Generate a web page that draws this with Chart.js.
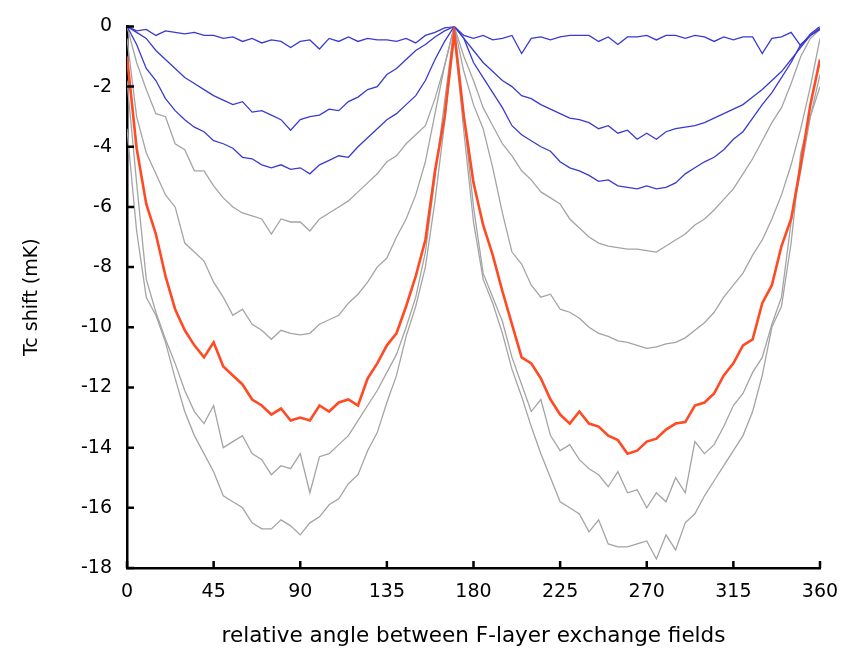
<!DOCTYPE html>
<html>
<head>
<meta charset="utf-8">
<script src="https://cdn.jsdelivr.net/npm/chart.js@4/dist/chart.umd.min.js"></script>
<style>
  html, body { margin: 0; padding: 0; background: #fff; }
  #wrap { width: 852px; height: 653px; }
</style>
</head>
<body>
<div id="wrap"><canvas id="tc-chart" width="852" height="653"></canvas></div>
<script>
// angle grid, degrees
const angles = [
  0, 5, 10, 15, 20, 25, 30, 35, 40, 45,
  50, 55, 60, 65, 70, 75, 80, 85, 90, 95,
  100, 105, 110, 115, 120, 125, 130, 135, 140, 145,
  150, 155, 160, 165, 170, 175, 180, 185, 190, 195,
  200, 205, 210, 215, 220, 225, 230, 235, 240, 245,
  250, 255, 260, 265, 270, 275, 280, 285, 290, 295,
  300, 305, 310, 315, 320, 325, 330, 335, 340, 345,
  350, 355, 360,
];

const xTicks = [0, 45, 90, 135, 180, 225, 270, 315, 360];
const yTicks = [0, -2, -4, -6, -8, -10, -12, -14, -16, -18];

// Tc shift (mK)
const blue1 = [
  0, -0.15, -0.1, -0.3, -0.15, -0.2, -0.25, -0.2, -0.3, -0.3,
  -0.4, -0.35, -0.5, -0.4, -0.55, -0.45, -0.5, -0.7, -0.5, -0.45,
  -0.75, -0.4, -0.5, -0.35, -0.5, -0.4, -0.45, -0.45, -0.5, -0.4,
  -0.55, -0.3, -0.2, -0.05, 0, -0.3, -0.4, -0.3, -0.45, -0.4,
  -0.3, -0.9, -0.4, -0.35, -0.45, -0.35, -0.3, -0.3, -0.3, -0.5,
  -0.35, -0.6, -0.35, -0.35, -0.3, -0.45, -0.3, -0.3, -0.4, -0.3,
  -0.35, -0.5, -0.35, -0.45, -0.35, -0.35, -0.9, -0.4, -0.35, -0.2,
  -0.65, -0.25, 0,
];

const blue2 = [
  0, -0.2, -0.4, -0.8, -1.1, -1.4, -1.7, -1.9, -2.1, -2.3,
  -2.45, -2.6, -2.5, -2.85, -2.8, -2.95, -3.1, -3.45, -3.1, -3.0,
  -2.95, -2.75, -2.8, -2.5, -2.35, -2.1, -2.0, -1.6, -1.4, -1.1,
  -0.8, -0.6, -0.35, -0.15, 0, -0.4, -0.8, -1.2, -1.5, -1.8,
  -2.0, -2.3, -2.4, -2.6, -2.75, -2.9, -3.05, -3.1, -3.2, -3.4,
  -3.3, -3.55, -3.45, -3.75, -3.55, -3.75, -3.5, -3.4, -3.35, -3.3,
  -3.2, -3.05, -2.9, -2.75, -2.6, -2.35, -2.1, -1.8, -1.5, -1.1,
  -0.7, -0.3, -0.1,
];

const blue3 = [
  0, -0.6, -1.4, -1.8, -2.4, -2.8, -3.1, -3.35, -3.5, -3.8,
  -3.9, -4.05, -4.35, -4.4, -4.6, -4.7, -4.6, -4.75, -4.7, -4.9,
  -4.6, -4.45, -4.3, -4.35, -4.0, -3.7, -3.4, -3.1, -2.9, -2.6,
  -2.3, -1.8, -1.1, -0.5, 0, -0.4, -1.2, -1.7, -2.2, -2.7,
  -3.3, -3.6, -3.8, -4.0, -4.15, -4.5, -4.7, -4.8, -4.95, -5.15,
  -5.1, -5.3, -5.35, -5.4, -5.3, -5.4, -5.35, -5.2, -4.9, -4.7,
  -4.5, -4.35, -4.1, -3.75, -3.5, -3.05, -2.6, -2.2, -1.7, -1.2,
  -0.6, -0.3, -0.05,
];

const gray1 = [
  0, -1.2, -2.1, -2.9, -3.0, -3.9, -4.1, -4.8, -4.8, -5.3,
  -5.7, -6.0, -6.2, -6.3, -6.4, -6.9, -6.4, -6.5, -6.5, -6.8,
  -6.4, -6.2, -6.0, -5.8, -5.5, -5.2, -4.9, -4.5, -4.3, -3.9,
  -3.6, -3.3, -2.4, -1.3, 0, -1.0, -1.8, -2.7, -3.3, -3.9,
  -4.3, -4.8, -5.1, -5.5, -5.7, -5.9, -6.4, -6.7, -7.0, -7.2,
  -7.3, -7.35, -7.4, -7.4, -7.45, -7.5, -7.3, -7.1, -6.9, -6.6,
  -6.4, -6.1, -5.75, -5.4, -4.9, -4.4, -3.8, -3.2, -2.7, -1.9,
  -1.0, -0.4, -0.1,
];

const gray2 = [
  -0.4, -3.0, -4.2, -4.9, -5.6, -6.0, -7.2, -7.5, -7.8, -8.5,
  -9.0, -9.6, -9.4, -9.9, -10.1, -10.4, -10.1, -10.2, -10.25, -10.2,
  -9.9, -9.75, -9.6, -9.2, -8.9, -8.5, -8.0, -7.7, -7.0, -6.4,
  -5.6, -4.5, -2.9, -1.3, 0, -1.5, -2.6, -3.4, -4.7, -6.2,
  -7.5, -7.9, -8.6, -9.0, -8.9, -9.4, -9.5, -9.7, -10.0, -10.2,
  -10.3, -10.45, -10.5, -10.6, -10.7, -10.65, -10.55, -10.5, -10.35, -10.1,
  -9.85, -9.5, -9.0, -8.6, -8.2, -7.6, -7.1, -6.4, -5.6, -4.6,
  -3.4, -2.0, -0.4,
];

const red = [
  -1.0, -4.05, -5.9, -6.9, -8.3, -9.4, -10.1, -10.6, -11.0, -10.5,
  -11.3, -11.6, -11.9, -12.4, -12.6, -12.9, -12.7, -13.1, -13.0, -13.1,
  -12.6, -12.8, -12.5, -12.4, -12.6, -11.7, -11.2, -10.6, -10.2, -9.3,
  -8.3, -7.1, -4.8, -3.0, -0.2, -3.0, -5.2, -6.6, -7.6, -8.8,
  -9.9, -11.0, -11.2, -11.7, -12.4, -12.9, -13.2, -12.8, -13.2, -13.3,
  -13.6, -13.75, -14.2, -14.1, -13.8, -13.7, -13.4, -13.2, -13.15, -12.6,
  -12.5, -12.2, -11.6, -11.2, -10.6, -10.4, -9.2, -8.6, -7.3, -6.4,
  -4.6, -2.6, -1.1,
];

const gray3 = [
  -1.8, -5.2, -8.4, -9.5, -10.4, -11.2, -12.1, -12.8, -13.2, -12.6,
  -14.0, -13.8, -13.6, -14.2, -14.4, -14.9, -14.6, -14.7, -14.2, -15.5,
  -14.3, -14.2, -13.9, -13.6, -13.1, -12.6, -12.1, -11.5, -10.9, -10.0,
  -9.0, -7.5, -5.0, -2.5, 0, -3.0, -6.0, -8.2, -9.0, -9.8,
  -11.0, -11.9, -12.8, -12.4, -13.6, -14.1, -13.9, -14.4, -14.7, -14.9,
  -15.3, -14.8, -15.5, -15.4, -16.0, -15.5, -15.8, -15.0, -15.5, -13.8,
  -14.2, -13.9, -13.3, -12.6, -12.2, -11.5, -11.0, -9.9, -9.0, -6.5,
  -4.8, -3.0, -1.6,
];

const gray4 = [
  -3.4, -6.8, -9.0, -9.6, -10.5, -11.7, -12.8, -13.6, -14.2, -14.8,
  -15.6, -15.8, -16.0, -16.5, -16.7, -16.7, -16.4, -16.6, -16.9, -16.5,
  -16.3, -15.9, -15.7, -15.2, -14.9, -14.1, -13.5, -12.5, -11.6, -10.3,
  -9.3, -8.0, -5.8, -3.2, -0.3, -3.5, -6.5, -8.4, -9.2, -10.2,
  -11.4, -12.3, -13.3, -14.2, -15.0, -15.8, -16.0, -16.2, -16.8, -16.4,
  -17.2, -17.3, -17.3, -17.2, -17.1, -17.7, -16.9, -17.4, -16.5, -16.2,
  -15.6, -15.1, -14.6, -14.1, -13.6, -12.8, -11.6, -10.0, -9.3, -7.2,
  -4.2, -3.0, -2.0,
];

const BLUE = "#3a3ad0";
const GRAY = "#a4a4a4";
const RED = "#ff4a24";

const toPoints = (values) => angles.map((a, i) => ({ x: a, y: values[i] }));

const line = (values, color, width, order) => ({
  data: toPoints(values),
  borderColor: color,
  backgroundColor: color,
  borderWidth: width,
  pointRadius: 0,
  fill: false,
  tension: 0,
  order: order,
});

// ticks point inward, like the original plot
const innerTicks = {
  id: "innerTicks",
  afterDraw(chart) {
    const { ctx, chartArea, scales } = chart;
    ctx.save();
    ctx.strokeStyle = "#000";
    ctx.lineWidth = 2.5;
    ctx.beginPath();
    xTicks.forEach((v) => {
      const px = scales.x.getPixelForValue(v);
      ctx.moveTo(px, chartArea.bottom);
      ctx.lineTo(px, chartArea.bottom - 7);
    });
    yTicks.forEach((v) => {
      const py = scales.y.getPixelForValue(v);
      ctx.moveTo(chartArea.left, py);
      ctx.lineTo(chartArea.left + 7, py);
    });
    ctx.stroke();
    ctx.restore();
  },
};

const fontFamily = "'DejaVu Sans', Verdana, sans-serif";
const tickFont = { family: fontFamily, size: 19 };

new Chart(document.getElementById("tc-chart").getContext("2d"), {
  type: "line",
  data: {
    datasets: [
      line(red, RED, 2.6, 0),
      line(blue1, BLUE, 1.3, 1),
      line(blue2, BLUE, 1.3, 1),
      line(blue3, BLUE, 1.3, 1),
      line(gray1, GRAY, 1.3, 2),
      line(gray2, GRAY, 1.3, 2),
      line(gray3, GRAY, 1.3, 2),
      line(gray4, GRAY, 1.3, 2),
    ],
  },
  options: {
    responsive: false,
    animation: false,
    layout: { padding: { top: 20, right: 32, left: 0, bottom: 0 } },
    plugins: {
      legend: { display: false },
      tooltip: { enabled: false },
    },
    scales: {
      x: {
        type: "linear",
        min: 0,
        max: 360,
        afterFit: (s) => {
          s.height = 85;
        },
        afterBuildTicks: (s) => {
          s.ticks = xTicks.map((v) => ({ value: v }));
        },
        ticks: { color: "#000", font: tickFont, padding: 13, maxRotation: 0 },
        grid: { display: false, drawTicks: false },
        border: { color: "#000", width: 2.5 },
        title: {
          display: true,
          text: "relative angle between F-layer exchange fields",
          color: "#000",
          font: { family: fontFamily, size: 21.5 },
          padding: { top: 0, bottom: 4 },
        },
      },
      y: {
        type: "linear",
        min: -18,
        max: 0,
        afterFit: (s) => {
          s.width = 127;
        },
        afterBuildTicks: (s) => {
          s.ticks = yTicks.map((v) => ({ value: v }));
        },
        ticks: { color: "#000", font: tickFont, padding: 15 },
        grid: { display: false, drawTicks: false },
        border: { color: "#000", width: 2.5 },
        title: {
          display: true,
          text: "Tc shift (mK)",
          color: "#000",
          font: { family: fontFamily, size: 19 },
          padding: { top: 21, bottom: 0 },
        },
      },
    },
  },
  plugins: [innerTicks],
});
</script>
</body>
</html>
